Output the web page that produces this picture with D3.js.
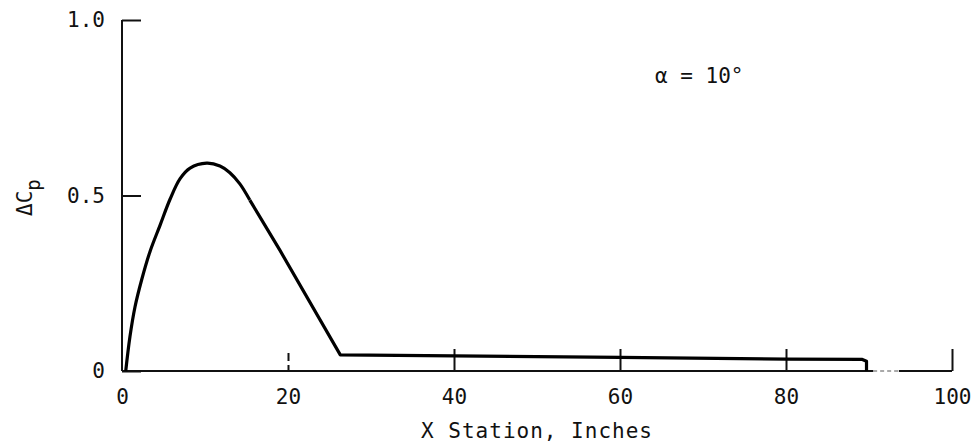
<!DOCTYPE html>
<html>
<head>
<meta charset="utf-8">
<script src="https://cdn.jsdelivr.net/npm/d3@7"></script>
<style>
  body { margin: 0; background: #fff; }
  text { font-family: "DejaVu Sans Mono", monospace; fill: #111; }
</style>
</head>
<body>
<svg id="chart"></svg>
<script>
// rising part of the curve
const riseX = [0.45, 0.96, 1.57, 2.37, 3.37, 4.58, 5.8, 7.0, 8.2, 10.2, 11.8, 13.0, 14.2, 15.4];
const riseY = [0, 0.098, 0.183, 0.26, 0.34, 0.415, 0.49, 0.548, 0.578, 0.592, 0.584, 0.565, 0.533, 0.487];
// straight part after the peak
const tailX = [15.4, 19.0, 26.3, 40, 60, 80, 89.2, 89.7, 89.7];
const tailY = [0.487, 0.345, 0.046, 0.043, 0.039, 0.034, 0.033, 0.028, 0];

const xTicks = [0, 20, 40, 60, 80, 100];
const yTicks = [0, 0.5, 1.0];
const yTickLabels = ['0', '0.5', '1.0'];

const width = 978;
const height = 444;
const margin = {top: 20, right: 26, bottom: 73, left: 122};

let svg = d3.select('#chart')
    .attr('width', width)
    .attr('height', height);

let g = svg.append('g')
    .attr('transform', 'translate(' + margin.left + ',' + margin.top + ')');

const w = width - margin.left - margin.right;
const h = height - margin.top - margin.bottom;

let x = d3.scaleLinear().domain([0, 100]).range([0, w]);
let y = d3.scaleLinear().domain([0, 1]).range([h, 0]);

// x axis: ticks point up, labels below
let xAxis = g.append('g')
    .attr('transform', 'translate(0,' + h + ')')
    .call(d3.axisBottom(x)
        .tickValues(xTicks)
        .tickSizeInner(-22)
        .tickSizeOuter(0)
        .tickPadding(18)
        .tickFormat(d3.format('d')));
xAxis.select('.domain').remove();
xAxis.selectAll('.tick line')
    .attr('stroke', '#111')
    .attr('stroke-width', 2)
    .attr('stroke-dasharray', d => d === 20 ? '6,4,8' : null)
    .style('display', d => d === 0 ? 'none' : null);
xAxis.selectAll('.tick text')
    .attr('font-size', 21)
    .attr('fill', '#111');

// baseline, with the little gap near the right end
g.append('path')
    .attr('stroke', '#111')
    .attr('stroke-width', 2)
    .attr('fill', 'none')
    .attr('d', 'M0,' + y(0) + 'H' + x(90.5) + 'M' + x(93.6) + ',' + y(0) + 'H' + x(100));
g.append('path')
    .attr('stroke', '#555')
    .attr('stroke-width', 1)
    .attr('stroke-dasharray', '4,3')
    .attr('fill', 'none')
    .attr('d', 'M' + x(90.5) + ',' + y(0) + 'H' + x(93.6));

// y axis: ticks point right, labels left
let yAxis = g.append('g')
    .call(d3.axisLeft(y)
        .tickValues(yTicks)
        .tickSizeInner(-19)
        .tickSizeOuter(0)
        .tickPadding(17)
        .tickFormat((d, i) => yTickLabels[i]));
yAxis.select('.domain')
    .attr('stroke', '#111')
    .attr('stroke-width', 2)
    .attr('d', 'M0,0V' + h);
yAxis.selectAll('.tick line')
    .attr('stroke', '#111')
    .attr('stroke-width', 2);
yAxis.selectAll('.tick text')
    .attr('font-size', 21)
    .attr('fill', '#111');

// the curve
let rise = riseX.map((d, i) => ({x: d, y: riseY[i]}));
let tail = tailX.map((d, i) => ({x: d, y: tailY[i]}));

g.append('path')
    .datum(rise)
    .attr('fill', 'none')
    .attr('stroke', '#000')
    .attr('stroke-width', 3.2)
    .attr('stroke-linejoin', 'round')
    .attr('d', d3.line().x(d => x(d.x)).y(d => y(d.y)).curve(d3.curveCatmullRom.alpha(0.5)));

g.append('path')
    .datum(tail)
    .attr('fill', 'none')
    .attr('stroke', '#000')
    .attr('stroke-width', 3.2)
    .attr('stroke-linejoin', 'round')
    .attr('d', d3.line().x(d => x(d.x)).y(d => y(d.y)));

// axis titles
svg.append('text')
    .attr('x', margin.left + w / 2)
    .attr('y', 438)
    .attr('text-anchor', 'middle')
    .attr('font-size', 21)
    .attr('letter-spacing', 1)
    .text('X Station, Inches');

let yLabel = svg.append('text')
    .attr('transform', 'translate(32,216) rotate(-90)')
    .attr('font-size', 21);
yLabel.append('tspan').text('\u0394C');
yLabel.append('tspan').attr('dy', 8).attr('font-size', 19).text('p');

// annotation
svg.append('text')
    .attr('x', 655)
    .attr('y', 83)
    .attr('font-size', 21)
    .text('\u03b1 = 10\u00b0');
</script>
</body>
</html>
